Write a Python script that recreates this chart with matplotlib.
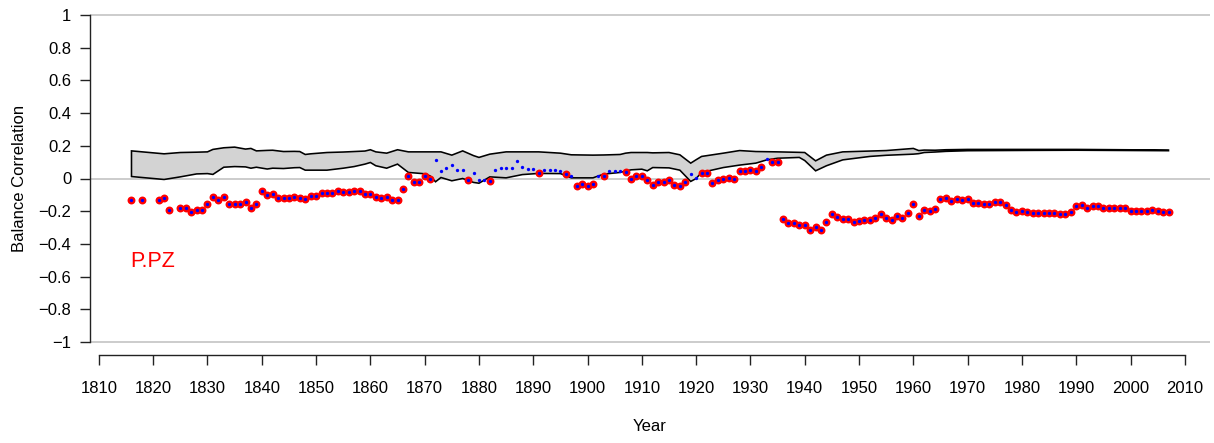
import numpy as np
import matplotlib
matplotlib.use('Agg')
import matplotlib.pyplot as plt

plt.rcParams['font.family'] = ['Liberation Sans', 'DejaVu Sans']

# yearly balance correlation, 1816-2007 (nan = no value)
years = np.arange(1816, 2008)
corr = [
    -0.129, np.nan, -0.129, np.nan,
    np.nan, -0.133, -0.120, -0.194, np.nan, -0.182, -0.182, -0.206, -0.192, -0.192,
    -0.159, -0.112, -0.133, -0.116, -0.157, -0.157, -0.157, -0.143, -0.182, -0.157,
    -0.078, -0.104, -0.092, -0.120, -0.120, -0.120, -0.112, -0.120, -0.127, -0.106,
    -0.106, -0.090, -0.090, -0.090, -0.076, -0.080, -0.082, -0.078, -0.078, -0.094,
    -0.094, -0.116, -0.122, -0.116, -0.133, -0.133, -0.063, 0.014, -0.020, -0.020,
    0.018, -0.006, 0.112, 0.047, 0.063, 0.084, 0.049, 0.049, -0.008, 0.031,
    -0.012, -0.008, -0.018, 0.053, 0.067, 0.067, 0.067, 0.106, 0.069, 0.061,
    0.061, 0.031, 0.055, 0.055, 0.055, 0.045, 0.029, 0.014, -0.045, -0.031,
    -0.045, -0.033, 0.014, 0.014, 0.045, 0.047, 0.045, 0.039, 0.000, 0.014,
    0.014, -0.012, -0.041, -0.020, -0.020, -0.010, -0.041, -0.045, -0.022, 0.029,
    0.002, 0.033, 0.033, -0.029, -0.008, 0.000, 0.004, 0.000, 0.045, 0.045,
    0.051, 0.047, 0.073, 0.122, 0.098, 0.098, -0.249, -0.273, -0.273, -0.282,
    -0.282, -0.318, -0.296, -0.314, -0.265, -0.216, -0.237, -0.245, -0.245, -0.265,
    -0.263, -0.255, -0.255, -0.241, -0.216, -0.241, -0.251, -0.227, -0.241, -0.212,
    -0.157, -0.227, -0.192, -0.198, -0.188, -0.127, -0.118, -0.137, -0.124, -0.131,
    -0.124, -0.149, -0.149, -0.153, -0.157, -0.143, -0.141, -0.163, -0.194, -0.206,
    -0.200, -0.206, -0.212, -0.210, -0.214, -0.214, -0.212, -0.216, -0.218, -0.206,
    -0.171, -0.163, -0.178, -0.167, -0.167, -0.178, -0.178, -0.178, -0.178, -0.178,
    -0.198, -0.198, -0.198, -0.200, -0.194, -0.196, -0.202, -0.202,
]

# years whose value is inside the band (drawn blue only, no red ring)
not_signif = [1872, 1873, 1874, 1875, 1876, 1877, 1879, 1880, 1881, 1883, 1884,
              1885, 1886, 1887, 1888, 1889, 1890, 1892, 1893, 1894, 1895, 1897,
              1902, 1904, 1905, 1906, 1919, 1920, 1933]

# confidence band edges
band_years = [1816, 1819, 1822, 1825, 1828, 1830, 1831, 1833, 1835, 1837, 1838,
              1839, 1841, 1842, 1844, 1846, 1847, 1848, 1849, 1852, 1855, 1857,
              1859, 1860, 1861, 1863, 1865, 1867, 1870, 1871, 1872, 1873, 1875,
              1877, 1879, 1880, 1882, 1885, 1888, 1891, 1895, 1897, 1901, 1903,
              1906, 1907, 1908, 1910, 1911, 1912, 1915, 1917, 1919, 1920, 1921,
              1925, 1928, 1931, 1933, 1935, 1939, 1940, 1942, 1944, 1947, 1952,
              1955, 1960, 1961, 1962, 1964, 1966, 1970, 1982, 1990, 2007]
band_upper = [0.169, 0.160, 0.151, 0.159, 0.161, 0.163, 0.178, 0.188, 0.192, 0.180, 0.184,
              0.169, 0.172, 0.173, 0.165, 0.166, 0.165, 0.147, 0.151, 0.159, 0.162, 0.165,
              0.168, 0.176, 0.163, 0.155, 0.176, 0.163, 0.163, 0.163, 0.163, 0.163, 0.143,
              0.169, 0.140, 0.129, 0.149, 0.163, 0.163, 0.163, 0.155, 0.145, 0.143, 0.144,
              0.147, 0.155, 0.159, 0.159, 0.159, 0.157, 0.159, 0.145, 0.094, 0.115, 0.135,
              0.155, 0.171, 0.165, 0.164, 0.163, 0.160, 0.159, 0.108, 0.143, 0.163, 0.168,
              0.171, 0.184, 0.171, 0.174, 0.173, 0.176, 0.178, 0.178, 0.178, 0.174]
band_lower = [0.012, 0.003, -0.006, 0.010, 0.028, 0.030, 0.025, 0.069, 0.073, 0.071, 0.063,
              0.069, 0.058, 0.063, 0.061, 0.066, 0.067, 0.051, 0.051, 0.051, 0.063, 0.073,
              0.088, 0.098, 0.078, 0.063, 0.088, 0.037, 0.029, 0.016, -0.020, 0.006, -0.014,
              0.000, -0.024, -0.029, 0.010, 0.004, 0.024, 0.031, 0.030, 0.004, 0.004, 0.027,
              0.037, 0.045, 0.053, 0.057, 0.047, 0.067, 0.065, 0.051, -0.018, 0.000, 0.037,
              0.067, 0.082, 0.094, 0.114, 0.124, 0.129, 0.110, 0.047, 0.078, 0.114, 0.135,
              0.142, 0.149, 0.152, 0.159, 0.162, 0.166, 0.170, 0.172, 0.173, 0.170]

yticks = [-1, -0.8, -0.6, -0.4, -0.2, 0, 0.2, 0.4, 0.6, 0.8, 1]
ytick_labels = ['\u22121', '\u22120.8', '\u22120.6', '\u22120.4', '\u22120.2', '0',
                '0.2', '0.4', '0.6', '0.8', '1']
xticks = list(range(1810, 2011, 10))
station = 'P.PZ'

fig = plt.figure(figsize=(12.14, 4.43), dpi=100)
ax = fig.add_axes([90 / 1214, 88 / 443, 1120 / 1214, 353 / 443])
ax.set_xlim(1808.36, 2014.64)
ax.set_ylim(-1.08, 1.08)

for h in (-1, 0, 1):
    ax.axhline(h, color='#bebebe', lw=1.1, zorder=1)

# band polygon: upper edge forward, lower edge back, closed with black border
px = list(band_years) + list(band_years[::-1])
py = list(band_upper) + list(band_lower[::-1])
ax.fill(px, py, facecolor='#d3d3d3', edgecolor='black', lw=1.15, zorder=2)

corr = np.array(corr)
sig = ~np.isin(years, not_signif)
ax.plot(years[sig], corr[sig], 'o', color='red', ms=5.7, mec='none', zorder=3)
ax.plot(years, corr, 'o', color='blue', ms=2.4, mec='none', zorder=4)

ax.text(1815.8, -0.51, station, color='red', fontsize=15.5, ha='left', va='center')

for s in ('top', 'right'):
    ax.spines[s].set_visible(False)
ax.spines['left'].set_bounds(-1, 1)
ax.spines['bottom'].set_bounds(1810, 2010)
for s in ('left', 'bottom'):
    ax.spines[s].set_linewidth(1.0)
    ax.spines[s].set_color('#222222')

ax.set_yticks(yticks)
ax.set_yticklabels(ytick_labels)
ax.set_xticks(xticks)
ax.tick_params(axis='both', direction='out', length=7.5, width=1.0, color='#222222',
               labelsize=12)
ax.tick_params(axis='x', pad=11.5)
ax.tick_params(axis='y', pad=6)

ax.set_xlabel('Year', fontsize=12, labelpad=16)
ax.set_ylabel('Balance Correlation', fontsize=12, labelpad=8)

fig.savefig('out.png', dpi=100)
